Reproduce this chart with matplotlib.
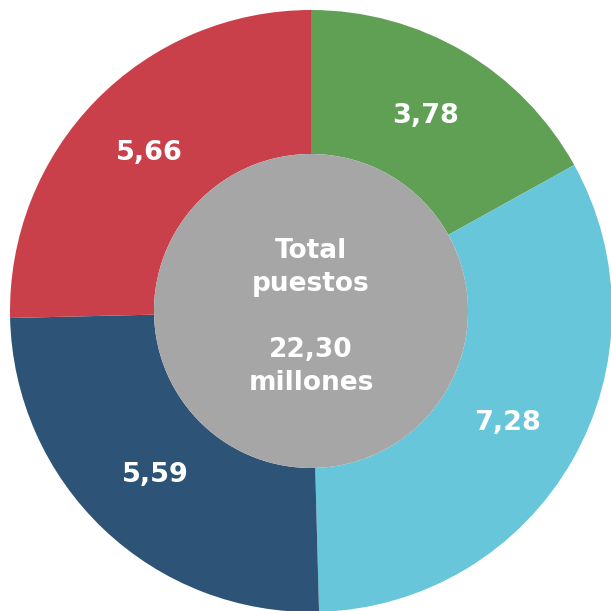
import numpy as np
from matplotlib import pyplot as plt

# valores (millones de puestos)
valores = [3.78, 7.28, 5.59, 5.66]
etiquetas = ['3,78', '7,28', '5,59', '5,66']
colores = ['#5FA055', '#67C6D9', '#2D5377', '#C9404A']
total_txt = 'Total\npuestos\n\n22,30\nmillones'

fig = plt.figure(figsize=(6.11, 6.11), dpi=100)
ax = fig.add_axes([0, 0, 1, 1])

R = 301
r_in = 157
wedges, texts = ax.pie(valores, radius=R, startangle=90, counterclock=False,
                       colors=colores, labels=etiquetas, labeldistance=0.75,
                       wedgeprops=dict(width=R - r_in, linewidth=0),
                       textprops=dict(color='white', fontsize=19.5, fontweight='bold',
                                      family='DejaVu Sans', ha='center', va='center'))

centro = plt.Circle((0, 0), r_in, color='#A6A6A6', linewidth=0)
ax.add_patch(centro)
ax.text(0, -6, total_txt, color='white', fontsize=19, fontweight='bold',
        ha='center', va='center', linespacing=1.36)

ax.set_xlim(-311, 300)
ax.set_ylim(-300, 311)
ax.set_aspect('equal')
ax.axis('off')

fig.savefig('out.png', dpi=100)
